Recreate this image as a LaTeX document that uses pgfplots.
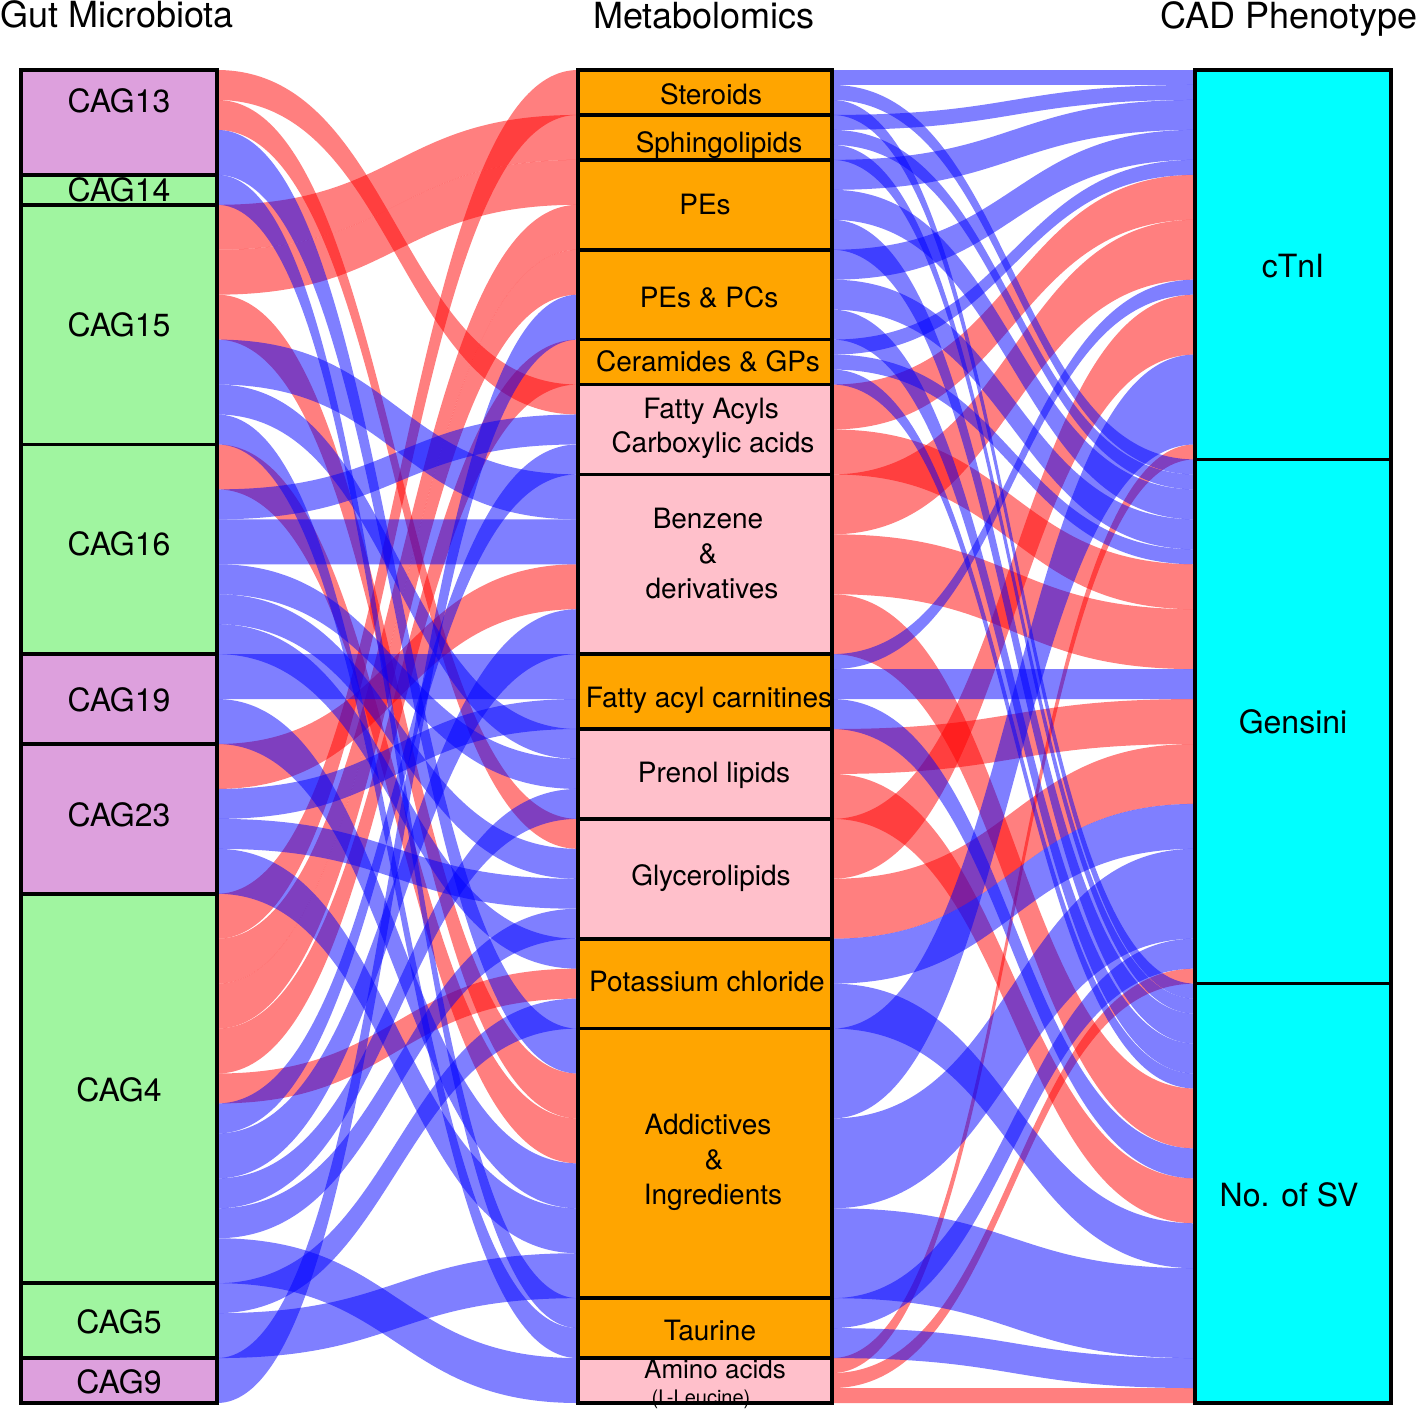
\documentclass[border=0pt]{standalone}
\usepackage{pgfplots}
\pgfplotsset{compat=1.18}
\usepackage{pgfplotstable}
\usepackage{fontspec}
\setmainfont{TeX Gyre Heros}

% plot handler: first point = start, then groups of three points = (control, control, end)
\makeatletter
\def\pgfplothandlerbzseq{%
  \def\pgf@plotstreamstart{%
    \global\let\pgf@plotstreampoint=\bzseq@first
    \global\let\pgf@plotstreamspecial=\pgfutil@gobble
    \global\let\pgf@plotstreamend=\pgfutil@empty
  }%
}
\def\bzseq@first#1{\pgfpathmoveto{#1}\global\let\pgf@plotstreampoint=\bzseq@c}
\def\bzseq@c#1{\pgf@process{#1}\xdef\bzseq@cx{\the\pgf@x}\xdef\bzseq@cy{\the\pgf@y}\global\let\pgf@plotstreampoint=\bzseq@d}
\def\bzseq@d#1{\pgf@process{#1}\xdef\bzseq@dx{\the\pgf@x}\xdef\bzseq@dy{\the\pgf@y}\global\let\pgf@plotstreampoint=\bzseq@e}
\def\bzseq@e#1{\pgfpathcurveto{\pgfqpoint{\bzseq@cx}{\bzseq@cy}}{\pgfqpoint{\bzseq@dx}{\bzseq@dy}}{#1}\global\let\pgf@plotstreampoint=\bzseq@c}
\tikzset{bzseq/.code={\let\tikz@plot@handler=\pgfplothandlerbzseq}}
\makeatother

\definecolor{cagviolet}{RGB}{221,160,221}
\definecolor{caggreen}{RGB}{160,245,160}
\definecolor{metorange}{RGB}{255,165,0}
\definecolor{metpink}{RGB}{255,192,203}
\definecolor{phencyan}{RGB}{0,255,255}

\def\U{14.9775}

% Gut microbiota -> metabolite links: s = start unit at source, t = start unit at target, w = width (units), c = 0 positive (red) / 1 negative (blue)
\pgfplotstableread{
s t w c
0 21 2 0
2 50 2 0
4 64 3 1
7 82 2 1
9 3 3 0
12 6 3 0
15 67 3 0
18 27 3 1
21 44 2 1
23 84 2 1
25 70 3 0
28 23 2 1
30 30 3 1
33 46 2 1
35 52 2 1
37 58 2 1
39 39 3 1
42 73 3 1
45 33 3 0
48 42 2 1
50 54 2 1
52 76 3 1
55 0 3 0
58 9 3 0
61 12 3 0
64 18 3 0
67 60 2 0
69 25 2 1
71 36 3 1
74 48 2 1
76 56 2 1
78 86 3 1
81 62 2 1
83 79 3 1
86 15 3 1
}\leftflows

% metabolite -> phenotype links
\pgfplotstableread{
s t w c
0 0 1 1
1 26 1 1
2 61 1 1
3 1 1 1
4 27 1 1
5 62 1 1
6 2 2 1
8 28 2 1
10 63 2 1
12 4 2 1
14 30 2 1
16 65 2 1
18 6 1 1
19 32 1 1
20 67 1 1
21 7 3 0
24 33 3 0
27 10 4 0
31 36 4 0
35 68 4 0
39 14 1 1
40 40 2 1
42 72 2 1
44 42 3 0
47 74 3 0
50 15 4 0
54 45 4 0
58 49 3 1
61 77 3 1
64 19 6 1
70 52 6 1
76 80 6 1
82 58 2 1
84 86 2 1
86 25 1 0
87 60 1 0
88 88 1 0
}\rightflows

\newcommand\drawflows[4]{%
  \pgfplotstablegetrowsof{#1}%
  \pgfmathtruncatemacro\nrows{\pgfplotsretval-1}%
  \pgfplotsforeachungrouped \i in {0,...,\nrows}{%
    \pgfplotstablegetelem{\i}{c}\of#1\edef\cc{\pgfplotsretval}%
    \ifnum\cc=#4\relax
      \pgfplotstablegetelem{\i}{s}\of#1\pgfmathsetmacro\ya{70+\pgfplotsretval*\U}%
      \pgfplotstablegetelem{\i}{t}\of#1\pgfmathsetmacro\yb{70+\pgfplotsretval*\U}%
      \pgfplotstablegetelem{\i}{w}\of#1\pgfmathsetmacro\hh{\pgfplotsretval*\U}%
      \pgfmathsetmacro\yc{\ya+\hh}\pgfmathsetmacro\yd{\yb+\hh}%
      \pgfmathsetmacro\xm{(#2+#3)/2}%
      \ifnum\cc=0 \def\fc{red}\else\def\fc{blue}\fi
      \edef\cmd{\noexpand\addplot[bzseq,draw=none,fill=\fc,fill opacity=0.5] coordinates {(#2,\ya) (\xm,\ya) (\xm,\yb) (#3,\yb) (#3,\yb) (#3,\yd) (#3,\yd) (\xm,\yd) (\xm,\yc) (#2,\yc) (#2,\yc) (#2,\ya) (#2,\ya)};}%
    \else
      \def\cmd{}%
    \fi
    \cmd
  }%
}

\tikzset{
  title/.style={font=\fontsize{18}{21}\selectfont, text height=13pt, text depth=0pt, inner sep=0pt, anchor=center},
  lab/.style={font=\fontsize{16}{19}\selectfont, text height=11.5pt, text depth=0pt, inner sep=0pt, anchor=center},
  mlab/.style={font=\fontsize{14}{17}\selectfont, text height=10pt, text depth=0pt, inner sep=0pt, anchor=center},
  box/.style={draw=black, line width=1.8pt},
}

\begin{document}
\begin{tikzpicture}
\begin{axis}[
  x=0.5pt, y=0.5pt, y dir=reverse,
  xmin=0, xmax=1418, ymin=0, ymax=1408,
  hide axis, clip=false,
]
\addplot[draw=none] coordinates {(0,0) (1418,1408)};

% links
\drawflows{\leftflows}{217}{578}{0}
\drawflows{\rightflows}{832}{1195}{0}
\drawflows{\leftflows}{217}{578}{1}
\drawflows{\rightflows}{832}{1195}{1}

% gut microbiota boxes
\addplot[box, fill=cagviolet] coordinates {(21,70) (217,70) (217,174.84) (21,174.84)} --cycle;
\addplot[box, fill=caggreen] coordinates {(21,174.84) (217,174.84) (217,204.80) (21,204.80)} --cycle;
\addplot[box, fill=caggreen] coordinates {(21,204.80) (217,204.80) (217,444.44) (21,444.44)} --cycle;
\addplot[box, fill=caggreen] coordinates {(21,444.44) (217,444.44) (217,654.12) (21,654.12)} --cycle;
\addplot[box, fill=cagviolet] coordinates {(21,654.12) (217,654.12) (217,743.99) (21,743.99)} --cycle;
\addplot[box, fill=cagviolet] coordinates {(21,743.99) (217,743.99) (217,893.76) (21,893.76)} --cycle;
\addplot[box, fill=caggreen] coordinates {(21,893.76) (217,893.76) (217,1283.17) (21,1283.17)} --cycle;
\addplot[box, fill=caggreen] coordinates {(21,1283.17) (217,1283.17) (217,1358.06) (21,1358.06)} --cycle;
\addplot[box, fill=cagviolet] coordinates {(21,1358.06) (217,1358.06) (217,1403) (21,1403)} --cycle;

% metabolite boxes
\addplot[box, fill=metorange] coordinates {(578,70) (832,70) (832,114.93) (578,114.93)} --cycle;
\addplot[box, fill=metorange] coordinates {(578,114.93) (832,114.93) (832,159.87) (578,159.87)} --cycle;
\addplot[box, fill=metorange] coordinates {(578,159.87) (832,159.87) (832,249.73) (578,249.73)} --cycle;
\addplot[box, fill=metorange] coordinates {(578,249.73) (832,249.73) (832,339.60) (578,339.60)} --cycle;
\addplot[box, fill=metorange] coordinates {(578,339.60) (832,339.60) (832,384.53) (578,384.53)} --cycle;
\addplot[box, fill=metpink] coordinates {(578,384.53) (832,384.53) (832,474.40) (578,474.40)} --cycle;
\addplot[box, fill=metpink] coordinates {(578,474.40) (832,474.40) (832,654.12) (578,654.12)} --cycle;
\addplot[box, fill=metorange] coordinates {(578,654.12) (832,654.12) (832,729.01) (578,729.01)} --cycle;
\addplot[box, fill=metpink] coordinates {(578,729.01) (832,729.01) (832,818.88) (578,818.88)} --cycle;
\addplot[box, fill=metpink] coordinates {(578,818.88) (832,818.88) (832,938.70) (578,938.70)} --cycle;
\addplot[box, fill=metorange] coordinates {(578,938.70) (832,938.70) (832,1028.57) (578,1028.57)} --cycle;
\addplot[box, fill=metorange] coordinates {(578,1028.57) (832,1028.57) (832,1298.17) (578,1298.17)} --cycle;
\addplot[box, fill=metorange] coordinates {(578,1298.17) (832,1298.17) (832,1358.06) (578,1358.06)} --cycle;
\addplot[box, fill=metpink] coordinates {(578,1358.06) (832,1358.06) (832,1403) (578,1403)} --cycle;

% phenotype boxes
\addplot[box, fill=phencyan] coordinates {(1195,70) (1391,70) (1391,459.42) (1195,459.42)} --cycle;
\addplot[box, fill=phencyan] coordinates {(1195,459.42) (1391,459.42) (1391,983.63) (1195,983.63)} --cycle;
\addplot[box, fill=phencyan] coordinates {(1195,983.63) (1391,983.63) (1391,1403) (1195,1403)} --cycle;

% titles
\node[title] at (axis cs:117,14) {Gut Microbiota};
\node[title] at (axis cs:704,15) {Metabolomics};
\node[title] at (axis cs:1289,15) {CAD Phenotype};

% left labels
\node[lab] at (axis cs:119,101) {CAG13};
\node[lab] at (axis cs:119,190) {CAG14};
\node[lab] at (axis cs:119,325) {CAG15};
\node[lab] at (axis cs:119,544) {CAG16};
\node[lab] at (axis cs:119,700) {CAG19};
\node[lab] at (axis cs:119,815) {CAG23};
\node[lab] at (axis cs:119,1090) {CAG4};
\node[lab] at (axis cs:119,1322) {CAG5};
\node[lab] at (axis cs:119,1382) {CAG9};

% middle labels
\node[mlab] at (axis cs:711,94) {Steroids};
\node[mlab] at (axis cs:719,142) {Sphingolipids};
\node[mlab] at (axis cs:705,204) {PEs};
\node[mlab] at (axis cs:709,297) {PEs \& PCs};
\node[mlab] at (axis cs:708,361) {Ceramides \& GPs};
\node[mlab] at (axis cs:711,408) {Fatty Acyls};
\node[mlab] at (axis cs:713,442) {Carboxylic acids};
\node[mlab] at (axis cs:708,518) {Benzene};
\node[mlab] at (axis cs:708,553) {\&};
\node[mlab] at (axis cs:712,588) {derivatives};
\node[mlab] at (axis cs:709,697) {Fatty acyl carnitines};
\node[mlab] at (axis cs:714,772) {Prenol lipids};
\node[mlab] at (axis cs:711,875) {Glycerolipids};
\node[mlab] at (axis cs:707,981) {Potassium chloride};
\node[mlab] at (axis cs:708,1124) {Addictives};
\node[mlab] at (axis cs:714,1159) {\&};
\node[mlab] at (axis cs:713,1194) {Ingredients};
\node[mlab] at (axis cs:710,1330) {Taurine};
\node[mlab, font=\fontsize{13}{15}\selectfont, text height=9.4pt] at (axis cs:715,1369) {Amino acids};
\node[mlab, font=\fontsize{10}{12}\selectfont, text height=7.2pt] at (axis cs:701,1397) {(L-Leucine)};

% right labels
\node[lab] at (axis cs:1293,266) {cTnI};
\node[lab] at (axis cs:1293,722) {Gensini};
\node[lab] at (axis cs:1289,1195) {No. of SV};
\end{axis}
\end{tikzpicture}
\end{document}
